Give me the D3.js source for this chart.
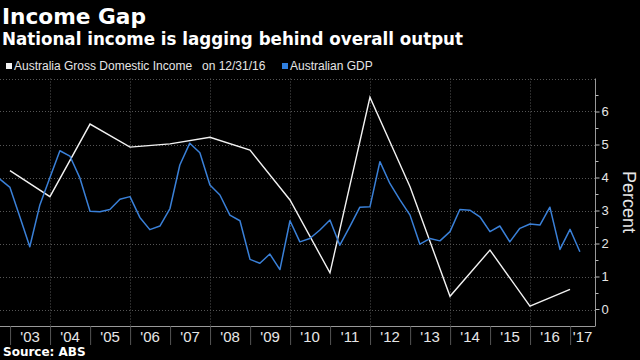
<!DOCTYPE html>
<html>
<head>
<meta charset="utf-8">
<script src="https://cdn.jsdelivr.net/npm/d3@7"></script>
<style>
  html, body { margin: 0; padding: 0; background: #000; }
  svg { display: block; }
</style>
</head>
<body>
<svg id="chart" width="640" height="360"></svg>
<script>
// ---- Data ----
const title = "Income Gap";
const subtitle = "National income is lagging behind overall output";
const source = "Source: ABS";
const seriesNames = ["Australia Gross Domestic Income", "Australian GDP"];
const legendNote = "on 12/31/16";

// Annual Gross Domestic Income, year-end (Dec 31)
const gdiYears = [2002, 2003, 2004, 2005, 2006, 2007, 2008, 2009, 2010, 2011, 2012, 2013, 2014, 2015, 2016];
const gdiValues = [4.21, 3.42, 5.62, 4.92, 5.02, 5.22, 4.83, 3.32, 1.11, 6.43, 3.72, 0.40, 1.80, 0.10, 0.61];

// Quarterly GDP, from quarter ending Sep 2002 to quarter ending Mar 2017
const gdpFirstQuarter = [2002, 3];
const gdpValues = [
  3.95, 3.70, 2.81, 1.90, 3.17, 4.00, 4.81, 4.65, 3.98, 2.98,
  2.96, 3.03, 3.34, 3.42, 2.79, 2.42, 2.53, 3.06, 4.38, 5.04,
  4.75, 3.77, 3.47, 2.86, 2.69, 1.52, 1.40, 1.68, 1.21, 2.69,
  2.05, 2.15, 2.41, 2.71, 1.95, 2.51, 3.10, 3.11, 4.48, 3.82,
  3.32, 2.86, 1.98, 2.15, 2.08, 2.36, 3.03, 3.01, 2.81, 2.36,
  2.53, 2.05, 2.46, 2.59, 2.56, 3.10, 1.82, 2.43, 1.75
];

const yearTickLabels = ["'03","'04","'05","'06","'07","'08","'09","'10","'11","'12","'13","'14","'15","'16","'17"];
const yTickLabels = [0, 1, 2, 3, 4, 5, 6];

// ---- Build ----
const quarterEnd = (i) => {
  const firstMonthAfter = new Date(gdpFirstQuarter[0], gdpFirstQuarter[1] * 3, 1);
  return d3.timeDay.offset(d3.timeMonth.offset(firstMonthAfter, 3 * i), -1);
};
const gdp = gdpValues.map((v, i) => ({ date: quarterEnd(i), value: v }));
const gdi = gdiYears.map((y, i) => ({ date: new Date(y, 11, 31), value: gdiValues[i] }));

const svg = d3.select("#chart");
svg.append("rect").attr("width", 640).attr("height", 360).attr("fill", "#000");

const plot = { left: 0, right: 595, top: 78.5, bottom: 326 };

const x = d3.scaleTime()
  .domain([new Date(2002, 9, 1), new Date(2017, 7, 16)])
  .range([plot.left, plot.right]);
const y = d3.scaleLinear()
  .domain([-0.5, 7])
  .range([plot.bottom, plot.top]);

const gridColor = "#555";

// Horizontal grid
svg.append("g")
  .selectAll("line")
  .data(d3.range(0, 8))
  .join("line")
  .attr("x1", plot.left).attr("x2", plot.right)
  .attr("y1", d => Math.round(y(d)) + 0.5).attr("y2", d => Math.round(y(d)) + 0.5)
  .attr("stroke", gridColor).attr("stroke-width", 1).attr("stroke-dasharray", "1,2");

// Vertical grid every other year
const gridYears = d3.timeYear.range(new Date(2004, 0, 1), new Date(2017, 0, 1), 2);
svg.append("g")
  .selectAll("line")
  .data(gridYears)
  .join("line")
  .attr("x1", d => Math.round(x(d)) + 0.5).attr("x2", d => Math.round(x(d)) + 0.5)
  .attr("y1", plot.top).attr("y2", plot.bottom)
  .attr("stroke", gridColor).attr("stroke-width", 1).attr("stroke-dasharray", "1,2");

// Lines
const line = d3.line().x(d => x(d.date)).y(d => y(d.value));
svg.append("path").datum(gdi).attr("d", line)
  .attr("fill", "none").attr("stroke", "#f2f2f2").attr("stroke-width", 1.4)
  .attr("stroke-linejoin", "miter");
svg.append("path").datum(gdp).attr("d", line)
  .attr("fill", "none").attr("stroke", "#3a80d8").attr("stroke-width", 1.5)
  .attr("stroke-linejoin", "round");

// X axis
const yearStarts = d3.timeYear.range(new Date(2003, 0, 1), new Date(2018, 0, 1));
const xAxis = d3.axisBottom(x)
  .tickValues(yearStarts.filter(d => x(d) <= plot.right))
  .tickSize(19)
  .tickFormat("");
const gx = svg.append("g").attr("transform", `translate(0,${plot.bottom})`).call(xAxis);
gx.select(".domain").attr("stroke", "#999").attr("d", `M${plot.left},0.5H${plot.right}`);
gx.selectAll(".tick line").attr("stroke", "#555");

svg.append("g")
  .selectAll("text")
  .data(yearStarts.slice(0, yearTickLabels.length))
  .join("text")
  .attr("x", d => {
    const a = x(d);
    const b = Math.min(x(d3.timeYear.offset(d, 1)), plot.right);
    return (a + b) / 2;
  })
  .attr("y", 341.5)
  .attr("text-anchor", "middle")
  .attr("fill", "#e6e6e6")
  .attr("font-family", "'Liberation Sans', Arial, sans-serif")
  .attr("font-size", 15)
  .text((d, i) => yearTickLabels[i]);

// Y axis (right)
const yAxis = d3.axisRight(y)
  .tickValues(d3.range(0.5, 7, 0.5))
  .tickSize(4)
  .tickFormat(d => Number.isInteger(d) ? String(yTickLabels[d]) : "");
const gy = svg.append("g").attr("transform", `translate(${plot.right + 0.5},0)`).call(yAxis);
gy.select(".domain").attr("stroke", "#999").attr("d", `M0,${plot.top}V${plot.bottom + 0.5}`);
gy.selectAll(".tick line").attr("stroke", "#bbb").attr("x2", d => Number.isInteger(d) ? 4 : 3);
gy.selectAll(".tick text")
  .attr("x", 6)
  .attr("fill", "#e6e6e6")
  .attr("font-family", "'Liberation Sans', Arial, sans-serif")
  .attr("font-size", 13);
// zero label tick
const g0 = svg.append("g").attr("transform", `translate(${plot.right + 0.5},${y(0)})`);
g0.append("line").attr("x1", 0).attr("x2", 4).attr("stroke", "#bbb");
g0.append("text").attr("x", 6).attr("dy", "0.32em").attr("fill", "#e6e6e6")
  .attr("font-family", "'Liberation Sans', Arial, sans-serif").attr("font-size", 13)
  .text(String(yTickLabels[0]));

// Y axis title
svg.append("text")
  .attr("transform", `translate(623,${(y(0) + y(7)) / 2 + 8}) rotate(90)`)
  .attr("text-anchor", "middle")
  .attr("fill", "#e6e6e6")
  .attr("font-family", "'Liberation Sans', Arial, sans-serif")
  .attr("font-size", 18)
  .text("Percent");

// Titles
svg.append("text")
  .attr("x", 2).attr("y", 24)
  .attr("fill", "#fff")
  .attr("font-family", "'DejaVu Sans', sans-serif")
  .attr("font-weight", "bold")
  .attr("font-size", 22)
  .attr("textLength", 144).attr("lengthAdjust", "spacingAndGlyphs")
  .text(title);
svg.append("text")
  .attr("x", 2).attr("y", 45)
  .attr("fill", "#fff")
  .attr("font-family", "'DejaVu Sans', sans-serif")
  .attr("font-weight", "bold")
  .attr("font-size", 17.5)
  .attr("textLength", 461).attr("lengthAdjust", "spacingAndGlyphs")
  .text(subtitle);

// Legend
const lg = svg.append("g").attr("font-family", "'Liberation Sans', Arial, sans-serif").attr("font-size", 12).attr("fill", "#e6e6e6");
lg.append("rect").attr("x", 6).attr("y", 63).attr("width", 6).attr("height", 6).attr("fill", "#f2f2f2");
lg.append("text").attr("x", 14).attr("y", 69.5).text(seriesNames[0]);
lg.append("text").attr("x", 202).attr("y", 69.5).text(legendNote);
lg.append("rect").attr("x", 282).attr("y", 63).attr("width", 6).attr("height", 6).attr("fill", "#2f7fe0");
lg.append("text").attr("x", 290).attr("y", 69.5).text(seriesNames[1]);

// Source
svg.append("text")
  .attr("x", 3).attr("y", 356)
  .attr("fill", "#fff")
  .attr("font-family", "'DejaVu Sans', sans-serif")
  .attr("font-weight", "bold")
  .attr("font-size", 12)
  .text(source);
</script>
</body>
</html>
